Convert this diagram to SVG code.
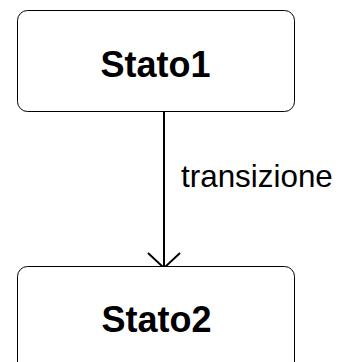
<svg xmlns="http://www.w3.org/2000/svg" width="342" height="362" viewBox="0 0 342 362">
  <style>
    .box { fill: #ffffff; stroke: #000000; stroke-width: 1; }
    .title { font-family: "Liberation Sans", Arial, sans-serif; font-weight: bold; font-size: 36px; text-anchor: middle; fill: #000000; }
    .label { font-family: "Liberation Sans", Arial, sans-serif; font-size: 31.4px; fill: #000000; }
    .edge { fill: none; stroke: #000000; stroke-width: 2; }
  </style>
  <defs>
    <marker id="open-arrow" markerWidth="18" markerHeight="36" refX="16" refY="17" orient="auto" markerUnits="userSpaceOnUse">
      <path d="M1,1 L16,17 L1,33" fill="none" stroke="#000000" stroke-width="2"/>
    </marker>
  </defs>
  <rect width="342" height="362" fill="#ffffff"/>
  <g id="connectors">
    <line class="edge" x1="164" y1="112" x2="164" y2="268" marker-end="url(#open-arrow)"/>
    <text class="label" x="181" y="187">transizione</text>
  </g>
  <g id="stato1">
    <rect class="box" x="17.5" y="10.5" width="277" height="101" rx="10" ry="10"/>
    <text class="title" x="155.5" y="77">Stato1</text>
  </g>
  <g id="stato2">
    <rect class="box" x="17.5" y="266.5" width="277" height="110" rx="10" ry="10"/>
    <text class="title" x="156.5" y="332">Stato2</text>
  </g>
</svg>
